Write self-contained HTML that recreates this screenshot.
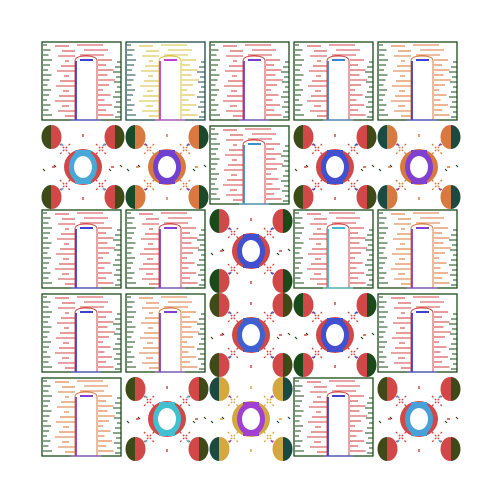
<!DOCTYPE html>
<html><head><meta charset="utf-8"><style>html,body{margin:0;padding:0;background:#fff}svg{display:block}</style></head>
<body>
<svg id="chart" width="500" height="500" viewBox="0 0 500 500" xmlns="http://www.w3.org/2000/svg"></svg>
<script>
const tileTypes = [
 'door','door','door','door','door',
 'ring','ring','door','ring','ring',
 'door','door','ring','door','door',
 'door','door','ring','ring','door',
 'door','ring','ring','door','ring'];
const primaryColors = [
 '#d04848','#d4c040','#d04848','#d04848','#d87a40',
 '#d04848','#d87a40','#d04848','#d04848','#d87a40',
 '#d04848','#d04848','#d04848','#d04848','#d87a40',
 '#d04848','#d87a40','#d04848','#d04848','#d04848',
 '#d87a40','#d04848','#d4a840','#d04848','#d04848'];
const accentColors = [
 '#4040d0','#c040d0','#7040d0','#4080d0','#4040d0',
 '#48a8d8','#7040d0','#4090c8','#4050d0','#8040d0',
 '#4040d0','#8040d0','#4050d0','#40b8d0','#8040d0',
 '#4040d0','#8040d0','#4060d0','#4050d0','#4040d0',
 '#8040d0','#40c0d0','#a040d0','#4040d0','#48a0d8'];
const darkColors = [
 '#1a4a1a','#1a4a4a','#1a4a1a','#1a4a1a','#1a4a1a',
 '#404a18','#1a4a2a','#1a4a1a','#404a18','#1a4a40',
 '#1a4a1a','#1a4a1a','#1a4a1a','#1a4a1a','#1a4a1a',
 '#1a4a1a','#1a4a1a','#404a18','#1a4a1a','#1a4a1a',
 '#1a4a1a','#404a18','#1a4a40','#1a4a1a','#404a18'];
const svg = document.getElementById('chart');
const NS = 'http://www.w3.org/2000/svg';
function mk(tag, attrs, parent){const e=document.createElementNS(NS,tag);for(const k in attrs)e.setAttribute(k,attrs[k]);parent.appendChild(e);return e;}
const lineYs=[4,9,14,19,24,29,34,39,44,49,54,59,64,69,74];
function door(g,c1,c2,dk){
  for(let i=0;i<lineYs.length;i++){
    const y=lineYs[i];
    const a=(i*7)%11, b=(i*5)%9;
    mk('line',{x1:2,y1:y,x2:6+a*0.5,y2:y,stroke:dk,'stroke-width':1},g);
    mk('line',{x1:14+a,y1:y+1,x2:i%3?34:28,y2:y+1,stroke:c1,'stroke-width':1.1},g);
    if(y>15){mk('line',{x1:57,y1:y,x2:62+b*1.5,y2:y,stroke:c1,'stroke-width':1.1},g);
    mk('line',{x1:72+((i*3)%5),y1:y+2,x2:80,y2:y+2,stroke:dk,'stroke-width':1},g);}
    else mk('line',{x1:36+a,y1:y,x2:62+b,y2:y,stroke:c1,'stroke-width':1.1},g);
  }
  mk('rect',{x:34,y:16,width:22,height:63,fill:'#fff',stroke:'none'},g);
  mk('rect',{x:1,y:1,width:79,height:78,fill:'none',stroke:dk,'stroke-width':1.3},g);
  mk('path',{d:'M34 79 V20 Q34 15 45 15 Q56 15 56 20 V79',fill:'none',stroke:c1,'stroke-width':1},g);
  mk('path',{d:'M35 79 V20',stroke:c2,'stroke-width':1.8},g);
  mk('path',{d:'M39 19 H52',stroke:c2,'stroke-width':2},g);
  mk('path',{d:'M30 79 H60',stroke:c2,'stroke-width':1},g);
}
function ring(g,c1,c2,dk){
  const corners=[[11,12,-1],[73,12,1],[11,72,-1],[73,72,1]];
  for(const [cx,cy,s] of corners){
    mk('ellipse',{cx,cy,rx:9.5,ry:12,fill:c1},g);
    mk('path',{d:`M${cx+s} ${cy-12} A9.5 12 0 0 ${s<0?0:1} ${cx+s} ${cy+12} Z`,fill:dk},g);
  }
  for(const [a,b] of [[24,24],[60,24],[24,60],[60,60]]){
    mk('line',{x1:a-5,y1:b-5,x2:a+5,y2:b+5,stroke:c1,'stroke-width':1.3,'stroke-dasharray':'2 2'},g);
    mk('line',{x1:a+5,y1:b-5,x2:a-5,y2:b+5,stroke:c1,'stroke-width':1.3,'stroke-dasharray':'2 2'},g);
  }
  for(let i=0;i<8;i++){
    const ang=i*Math.PI/4;
    mk('line',{x1:42+Math.cos(ang)*28,y1:42+Math.sin(ang)*30,x2:42+Math.cos(ang)*31,y2:42+Math.sin(ang)*33,stroke:i%2?c2:c1,'stroke-width':1.5},g);
    mk('line',{x1:2+((i*11)%80),y1:i%2?40:44,x2:4+((i*11)%80),y2:i%2?42:46,stroke:dk,'stroke-width':1.2},g);
  }
  mk('ellipse',{cx:42,cy:42,rx:19,ry:18,fill:c1},g);
  mk('path',{d:'M34 25 H50 V59 H34 Z',fill:c2},g);
  mk('ellipse',{cx:42,cy:42,rx:14,ry:17,fill:c2},g);
  mk('ellipse',{cx:42,cy:42,rx:9,ry:11,fill:'#fff'},g);
}
for(let i=0;i<tileTypes.length;i++){
  const col=i%5,row=Math.floor(i/5);
  const g=mk('g',{transform:`translate(${41+col*84},${41+row*84})`},svg);
  
  
  if(tileTypes[i]==='door')door(g,primaryColors[i],accentColors[i],darkColors[i]);
  else ring(g,primaryColors[i],accentColors[i],darkColors[i]);
}
</script>
</body></html>
